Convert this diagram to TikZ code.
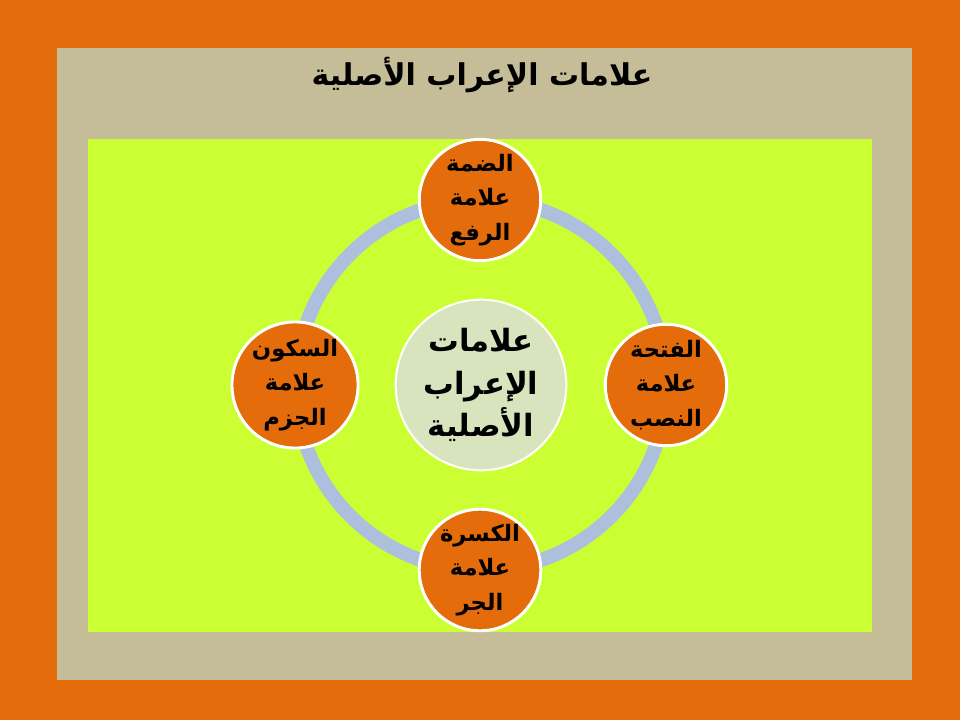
\documentclass[tikz,border=0pt]{standalone}
\usepackage{fontspec}
\newfontfamily\arabicfont[Script=Arabic]{DejaVu Sans}
\TeXXeTstate=1
\newcommand{\rl}[1]{\beginR #1\endR}
\definecolor{slideorange}{HTML}{E46C0A}
\definecolor{paneltan}{HTML}{C4BD97}
\definecolor{panellime}{HTML}{CCFF33}
\definecolor{ringblue}{HTML}{ACBFDC}
\definecolor{hubgreen}{HTML}{D7E4BD}

\begin{document}
\begin{tikzpicture}[x=0.75pt,y=-0.75pt,
  sign/.style={circle,draw=white,line width=2.2pt,fill=slideorange,
    minimum size=91pt,inner sep=0pt,align=center,
    font=\arabicfont\bfseries\fontsize{17}{26}\selectfont},
  hub/.style={circle,draw=white,line width=1.5pt,fill=hubgreen,
    minimum size=128pt,inner sep=0pt,align=center,
    font=\arabicfont\bfseries\fontsize{23}{32}\selectfont}]
\fill[slideorange] (0,0) rectangle (960,720);
\fill[paneltan] (57,48) rectangle (912,680);
\fill[panellime] (88,139) rectangle (872,632);
\node[font=\arabicfont\bfseries\fontsize{22.5}{28}\selectfont] (title) at (482,75) {\rl{علامات الإعراب الأصلية}};
\coordinate (c) at (481,385);
\draw[ringblue,line width=10.5pt] (c) circle[radius=138.75pt];
\node [hub] (hub) at (c) {\rl{علامات}\\\rl{الإعراب}\\\rl{الأصلية}};
\node [sign] (top) at (480,200) {\rl{الضمة}\\\rl{علامة}\\\rl{الرفع}};
\node [sign] (right) at (666,385) {\rl{الفتحة}\\\rl{علامة}\\\rl{النصب}};
\node [sign] (bottom) at (480,570) {\rl{الكسرة}\\\rl{علامة}\\\rl{الجر}};
\node [sign] (left) at (295,385) {\rl{السكون}\\\rl{علامة}\\\rl{الجزم}};
\end{tikzpicture}
\end{document}
